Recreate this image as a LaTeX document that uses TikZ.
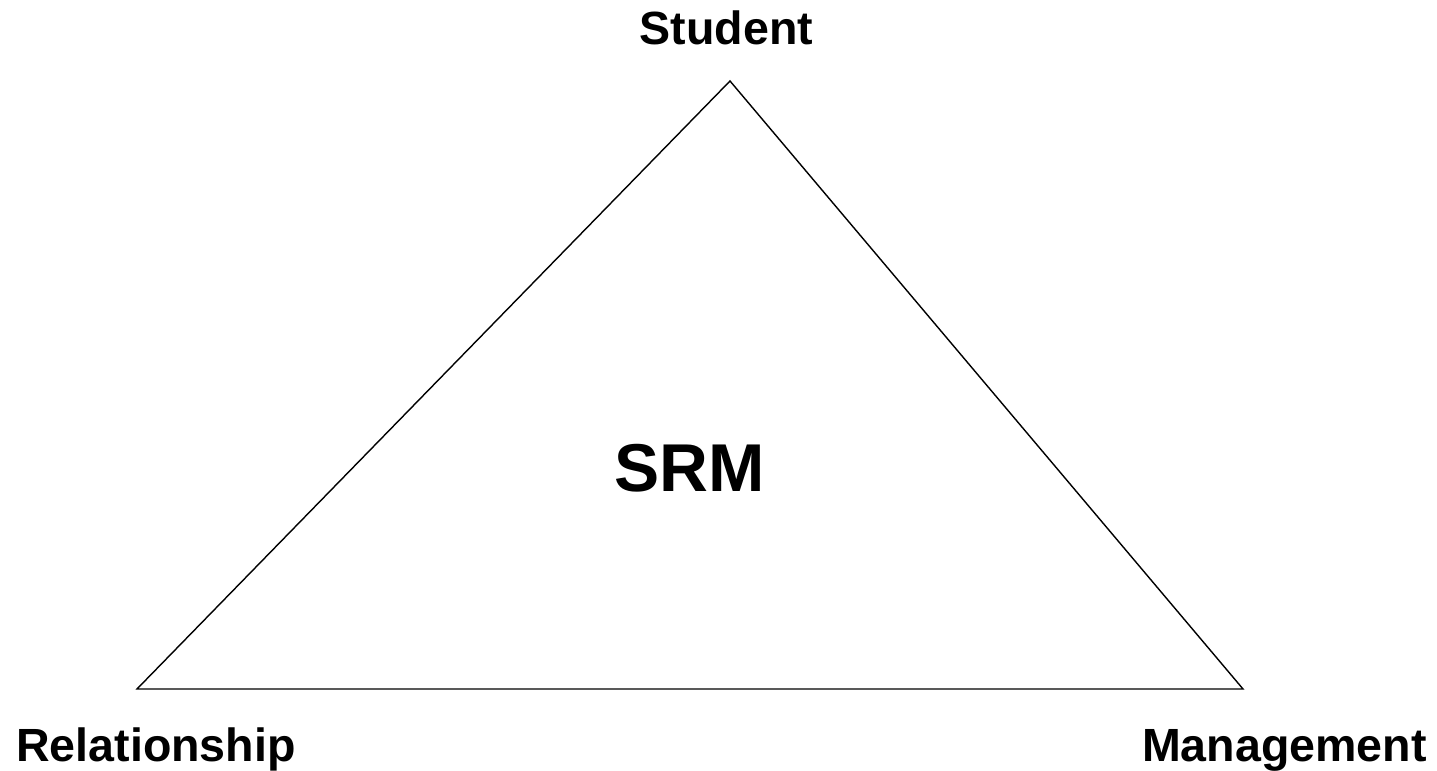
\documentclass[tikz,border=0pt]{standalone}
\usepackage{fontspec}
\setmainfont{Liberation Sans}
\usepackage{tikz}
\usetikzlibrary{positioning}

\begin{document}
\begin{tikzpicture}[
    corner/.style={font=\bfseries\fontsize{26.5}{30}\selectfont, anchor=base, inner sep=0pt},
    centre/.style={font=\bfseries\fontsize{38.5}{44}\selectfont, anchor=base, inner sep=0pt},
    side/.style={draw=black, line width=0.8pt, line join=miter}
]
  \useasboundingbox (0,0) rectangle (28.74,15.42);

  % corners of the triangle
  \coordinate (apex)  at (14.6,13.8);
  \coordinate (left)  at (2.74,1.64);
  \coordinate (right) at (24.86,1.64);

  \path[side] (apex) -- (left) -- (right) -- cycle;

  % labels
  \node[corner] (student) at (14.53,14.52) {Student};
  \node[corner] (rel)     at (3.12,0.18)   {Relationship};
  \node[corner] (mgmt)    at (25.69,0.18)  {Management};
  \node[centre] (srm)     at (13.79,5.58)  {SRM};
\end{tikzpicture}
\end{document}
